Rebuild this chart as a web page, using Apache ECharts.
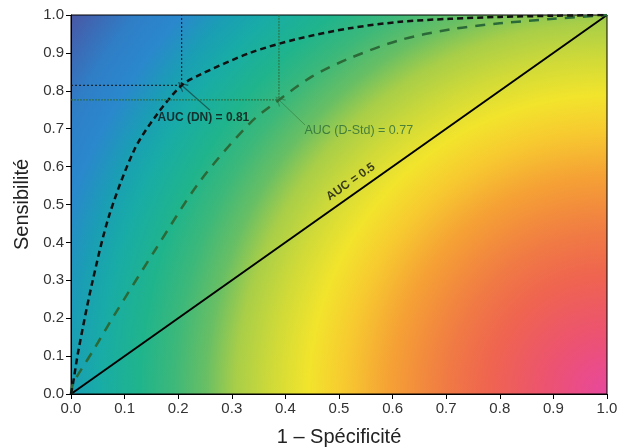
<!DOCTYPE html>
<html>
<head>
<meta charset="utf-8">
<script src="https://cdn.jsdelivr.net/npm/echarts@6/dist/echarts.min.js"></script>
<style>
  html, body { margin: 0; padding: 0; background: #fff; }
  #main { width: 625px; height: 448px; }
</style>
</head>
<body>
<div id="main"></div>
<script>
// courbe DN (noire)
var dnX = [0, 0.004, 0.014, 0.039, 0.071, 0.118, 0.16, 0.2065, 0.24, 0.334, 0.42, 0.52, 0.614, 0.707, 0.8, 0.9, 1.0];
var dnY = [0, 0.03, 0.116, 0.29, 0.47, 0.644, 0.737, 0.8145, 0.842, 0.9, 0.936, 0.965, 0.982, 0.99, 0.995, 0.998, 1];
// courbe D-Std (verte)
var stdX = [0, 0.004, 0.042, 0.079, 0.157, 0.24, 0.334, 0.388, 0.45, 0.52, 0.614, 0.707, 0.8, 0.9, 1.0];
var stdY = [0, 0.028, 0.116, 0.204, 0.38, 0.56, 0.715, 0.776, 0.838, 0.886, 0.934, 0.962, 0.978, 0.99, 1];
var diagX = [0, 1];
var diagY = [0, 1];
var ticks = ['0.0', '0.1', '0.2', '0.3', '0.4', '0.5', '0.6', '0.7', '0.8', '0.9', '1.0'];

// points AUC et annotations
var dnPoint = [0.2065, 0.8145];
var stdPoint = [0.388, 0.776];
var dnLabelPos = [0.247, 0.728];
var stdLabelPos = [0.537, 0.695];
var diagLabelPos = [0.522, 0.56];
var dnArrowFrom = [0.259, 0.749];
var stdArrowFrom = [0.4366, 0.7098];

function pairs(xs, ys) {
  return xs.map(function (x, i) { return [x, ys[i]]; });
}

var green = '#2b6a38';
var font = 'Liberation Sans, Arial, sans-serif';
var chevron = 'path://M5,0 L10,11 L8.6,11 L5,3 L1.4,11 L0,11 Z';

// fond : dégradé radial depuis le coin bas-droit
var bgStops = [
  [0, '#e8489e'], [0.09, '#ec5272'], [0.18, '#ef6450'], [0.245, '#f07a44'],
  [0.33, '#f5a035'], [0.40, '#f7ca30'], [0.455, '#f2e42c'], [0.51, '#d0da38'],
  [0.565, '#a8ce48'], [0.61, '#68bf64'], [0.66, '#3cb87a'], [0.71, '#20b48c'],
  [0.77, '#18aca6'], [0.815, '#1a9eb4'], [0.866, '#2a88cc'], [0.92, '#2f7ec6'],
  [1, '#4a56a4']
];

var myChart = echarts.init(document.getElementById('main'));
var option = {
  animation: false,
  textStyle: { fontFamily: font },
  grid: {
    left: 71, right: 18, top: 15, bottom: 54,
    outerBoundsMode: 'none',
    containLabel: false,
    show: true,
    borderColor: '#000',
    borderWidth: 1,
    backgroundColor: {
      type: 'radial', x: 1, y: 1, r: 1.733,
      colorStops: bgStops.map(function (s) { return { offset: s[0], color: s[1] }; })
    }
  },
  xAxis: {
    type: 'value', min: 0, max: 1, interval: 0.1,
    name: '1 – Spécificité', nameLocation: 'middle', nameGap: 33,
    nameTextStyle: { fontSize: 20, color: '#222', fontFamily: font },
    axisLine: { lineStyle: { color: '#000', width: 1 } },
    axisTick: { length: 5, lineStyle: { color: '#000' } },
    axisLabel: { fontSize: 15, color: '#333', margin: 7, formatter: function (v) { return ticks[Math.round(v * 10)]; } },
    splitLine: { show: false }
  },
  yAxis: {
    type: 'value', min: 0, max: 1, interval: 0.1,
    name: 'Sensibilité', nameLocation: 'middle', nameGap: 31,
    nameTextStyle: { fontSize: 20, color: '#222', fontFamily: font },
    axisLine: { lineStyle: { color: '#000', width: 1 } },
    axisTick: { length: 5, lineStyle: { color: '#000' } },
    axisLabel: { fontSize: 15, color: '#333', margin: 7, formatter: function (v) { return ticks[Math.round(v * 10)]; } },
    splitLine: { show: false }
  },
  series: [
    {
      type: 'line', data: pairs(diagX, diagY), showSymbol: false,
      lineStyle: { color: '#000', width: 2 }
    },
    {
      type: 'line', data: pairs(stdX, stdY), showSymbol: false, smooth: 0.3,
      lineStyle: { color: green, width: 2.5, type: [10, 8] }
    },
    {
      type: 'line', data: pairs(dnX, dnY), showSymbol: false, smooth: 0.3,
      lineStyle: { color: '#111', width: 2.5, type: [6, 4] }
    },
    // lignes pointillées de repère
    {
      type: 'line', showSymbol: false,
      data: [[0, dnPoint[1]], dnPoint, [dnPoint[0], 1]],
      lineStyle: { color: '#111', width: 1, type: [2, 2] }
    },
    {
      type: 'line', showSymbol: false,
      data: [[0, stdPoint[1]], stdPoint, [stdPoint[0], 1]],
      lineStyle: { color: green, width: 1, type: [2, 1] }
    },
    // flèches
    {
      type: 'lines', coordinateSystem: 'cartesian2d',
      symbol: ['none', chevron], symbolSize: [8, 10],
      data: [
        { coords: [dnArrowFrom, dnPoint], lineStyle: { color: '#111', width: 1.3 } },
        { coords: [stdArrowFrom, stdPoint], lineStyle: { color: green, width: 1 } }
      ]
    },
    // étiquettes
    {
      type: 'scatter', symbolSize: 0, silent: true,
      data: [
        { value: dnLabelPos, label: { show: true, position: 'inside', formatter: 'AUC (DN) = 0.81', fontSize: 12, fontWeight: 'bold', color: '#111' } },
        { value: stdLabelPos, label: { show: true, position: 'inside', formatter: 'AUC (D-Std) = 0.77', fontSize: 12.5, color: green } },
        { value: diagLabelPos, label: { show: true, position: 'inside', formatter: 'AUC = 0.5', fontSize: 12, fontWeight: 'bold', color: '#111', rotate: 35 } }
      ]
    }
  ]
};
myChart.setOption(option);
</script>
</body>
</html>
